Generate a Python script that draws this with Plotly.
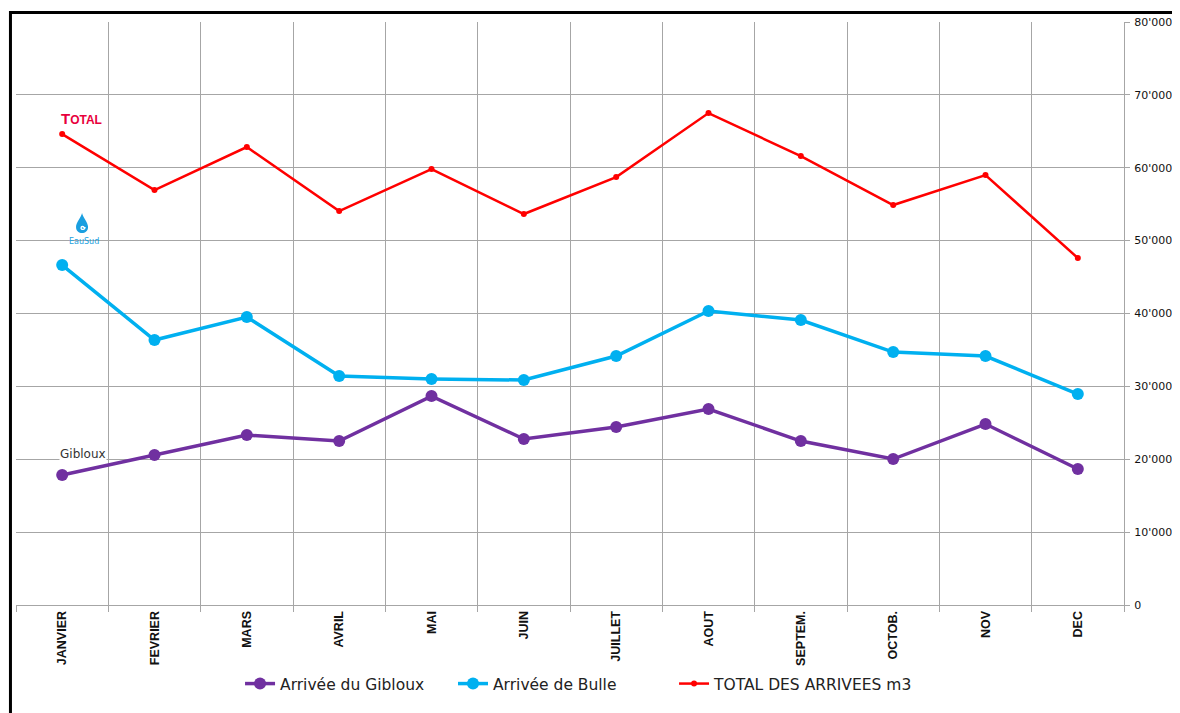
import plotly.graph_objects as go

months = ["JANVIER", "FEVRIER", "MARS", "AVRIL", "MAI", "JUIN", "JUILLET",
          "AOUT", "SEPTEM.", "OCTOB.", "NOV", "DEC"]
gibloux = [17840, 20580, 23320, 22500, 28670, 22780, 24420, 26890, 22500, 20030, 24830, 18660]
bulle = [46650, 36360, 39510, 31420, 31010, 30870, 34160, 40340, 39100, 34710, 34160, 28950]
total = [64620, 56940, 62840, 54060, 59820, 53650, 58720, 67500, 61600, 54880, 59000, 47610]
ytick_vals = [0, 10000, 20000, 30000, 40000, 50000, 60000, 70000, 80000]
ytick_text = ["0", "10'000", "20'000", "30'000", "40'000", "50'000", "60'000", "70'000", "80'000"]

fig = go.Figure()
fig.add_trace(go.Scatter(x=months, y=gibloux, name="Arrivée du Gibloux", mode="lines+markers",
                         line=dict(color="#7030a0", width=3.5), marker=dict(size=12, color="#7030a0"),
                         legend="legend"))
fig.add_trace(go.Scatter(x=months, y=bulle, name="Arrivée de Bulle", mode="lines+markers",
                         line=dict(color="#00b0f0", width=3.5), marker=dict(size=12, color="#00b0f0"),
                         legend="legend2"))
fig.add_trace(go.Scatter(x=months, y=total, name="TOTAL DES ARRIVEES m3", mode="lines+markers",
                         line=dict(color="#ff0000", width=2.5), marker=dict(size=6, color="#ff0000"),
                         legend="legend3"))

grid = "#a6a6a6"
legfont = dict(family="DejaVu Sans", size=15.5, color="#222")
leg_common = dict(orientation="h", xanchor="left", y=-0.1355, yanchor="middle",
                  font=legfont, itemwidth=30, bgcolor="rgba(0,0,0,0)")
fig.update_layout(
    width=1164, height=705,
    margin=dict(l=8, r=48, t=14, b=108, autoexpand=False),
    paper_bgcolor="white", plot_bgcolor="white",
    showlegend=True,
    legend=dict(x=0.2022, **leg_common),
    legend2=dict(x=0.3944, **leg_common),
    legend3=dict(x=0.5939, **leg_common),
    xaxis=dict(type="category", tickson="boundaries", showgrid=True, gridcolor=grid, gridwidth=1,
               ticks="outside", ticklen=6, tickcolor=grid, tickangle=-90, automargin=False,
               tickfont=dict(family="Liberation Sans", size=12.5, color="#111", weight="bold"),
               showline=True, linecolor=grid, linewidth=1, mirror=False, range=[-0.5, 11.5]),
    yaxis=dict(side="right", range=[0, 80000], tickvals=ytick_vals, ticktext=ytick_text,
               showgrid=True, gridcolor=grid, gridwidth=1, ticks="outside", ticklen=5, tickcolor=grid,
               ticklabelstandoff=2, automargin=False,
               tickfont=dict(family="DejaVu Sans", size=11, color="#111"),
               showline=True, linecolor=grid, linewidth=1, zeroline=False),
)

# frame around the chart
fig.add_shape(type="rect", xref="paper", yref="paper", x0=-0.005, x1=1.2, y0=-0.4, y1=1.0163,
              line=dict(color="black", width=3), fillcolor="rgba(0,0,0,0)", layer="above")

# EauSud drop logo
fig.add_shape(type="path", xref="paper", yref="paper", xsizemode="pixel", ysizemode="pixel",
              xanchor=0.0596, yanchor=0.6398,
              path="M 0,19 C 1,14 6,10 6,5 C 6,1 3,-1 0,-1 C -3,-1 -6,1 -6,5 C -6,10 -1,14 0,19 Z",
              fillcolor="#1a9fe0", line=dict(width=0), layer="above")
fig.add_shape(type="path", xref="paper", yref="paper", xsizemode="pixel", ysizemode="pixel",
              xanchor=0.0596, yanchor=0.6398,
              path="M 3,5 C 3,2 -1,2 -1,4 C -1,6 2,6 2,4",
              fillcolor="rgba(0,0,0,0)", line=dict(width=1.3, color="white"), layer="above")

# logos / labels near January
fig.add_annotation(x="JANVIER", y=66800, xshift=19, showarrow=False,
                   text="<b>T<span style='font-size:12px'>OTAL</span></b>",
                   font=dict(family="Liberation Sans", size=15, color="#e8003c"))
fig.add_annotation(x="JANVIER", y=20700, xshift=21, showarrow=False, text="Gibloux",
                   bgcolor="white", borderpad=0,
                   font=dict(family="DejaVu Sans", size=12, color="#333"))
fig.add_annotation(x="JANVIER", y=49900, xshift=22, showarrow=False, text="EauSud",
                   font=dict(family="DejaVu Sans", size=8, color="#1a9fe0"))

fig.write_html("out.html")
